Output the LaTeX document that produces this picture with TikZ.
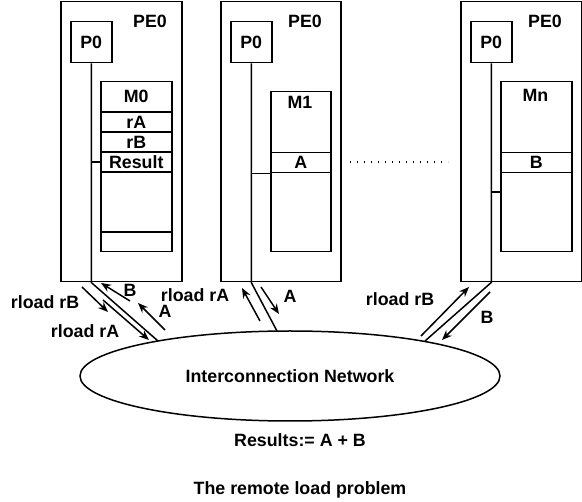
\documentclass[tikz,border=0pt]{standalone}
\usepackage{fontspec}
\setmainfont{Liberation Sans}
\usetikzlibrary{arrows.meta,positioning,shapes.geometric}

\begin{document}
\begin{tikzpicture}[x=1pt,y=-1pt,line width=1.5pt,
  every node/.style={font=\fontsize{17.8}{20}\selectfont\bfseries,inner sep=0pt},
  box/.style={draw,rectangle,anchor=north west},
  msg/.style={-{Stealth[length=10pt,width=8pt]}}]

\useasboundingbox (0,0) rectangle (582,502);

%% The first PE
\node [box,minimum width=121pt,minimum height=280pt] (pe1) at (60,1) {};
\node (pe1lbl) at (150,21) {PE0};
\node [box,minimum width=41pt,minimum height=41pt] (p1) at (70,21) {P0};

% memory M0 with its cells
\node [box,minimum width=71pt,minimum height=30pt] (m0) at (100,81) {M0};
\node [box,minimum width=71pt,minimum height=19pt] (ra) at (100,112) {rA};
\node [box,minimum width=71pt,minimum height=19pt] (rb) at (100,132) {rB};
\node [box,minimum width=71pt,minimum height=19pt] (res) at (100,152) {Result};
\node [box,minimum width=71pt,minimum height=59pt] (free1) at (100,172) {};
\node [box,minimum width=71pt,minimum height=19pt] (free2) at (100,232) {};

%% The second PE
\node [box,minimum width=120pt,minimum height=280pt] (pe2) at (220,1) {};
\node (pe2lbl) at (305,21) {PE0};
\node [box,minimum width=41pt,minimum height=41pt] (p2) at (230,21) {P0};
\node [box,minimum width=60pt,minimum height=160pt] (m1) at (270,91) {};
\node (m1lbl) at (300,102) {M1};
\node [box,minimum width=60pt,minimum height=20pt] (a1) at (270,152) {A};

%% The last PE
\node [box,minimum width=121pt,minimum height=280pt] (pe3) at (460,1) {};
\node (pe3lbl) at (545,21) {PE0};
\node [box,minimum width=41pt,minimum height=41pt] (p3) at (470,21) {P0};
\node [box,minimum width=71pt,minimum height=170pt] (mn) at (500,81) {};
\node (mnlbl) at (535.5,95) {Mn};
\node [box,minimum width=71pt,minimum height=20pt] (b1) at (500,152) {B};

% dots between the PEs
\draw [line width=1.2pt,dash pattern=on 1.2pt off 5.8pt] (350,162) -- (448,162);

%% The network
\node [draw,ellipse,minimum width=420pt,minimum height=90pt] (net) at (290,376) {Interconnection Network};
\coordinate (n1) at (158,341);
\coordinate (n2) at (277,331);
\coordinate (n3) at (425,341);

% bus of each PE down to the network
\draw (p1.south) -- (p1.south |- pe1.south) -- (n1);
\draw (p2.south) -- (p2.south |- pe2.south) -- (n2);
\draw (p3.south) -- (p3.south |- pe3.south) -- (n3);

% taps into the memories
\draw (p1.south |- res.west) -- (res.west);
\draw (p2.south |- a1.south west) -- (a1.south west);
\coordinate (t3) at (500,192);
\draw (p3.south |- t3) -- (t3);

%% The messages of the first PE
\draw [msg] (82,287) -- (108,312);
\draw [msg] (103,300) -- (149,340);
\draw [msg] (130,301) -- (101,283);
\draw [msg] (165,330) -- (138,303);
\node (lrb1) at (45,302) {rload rB};
\node (lra1) at (85,331) {rload rA};
\node (lb1) at (130,290) {B};
\node (la1) at (165,311) {A};

%% The messages of the second PE
\draw [msg] (260,321) -- (242,288);
\draw [msg] (261,287) -- (279,314);
\node (lra2) at (195,295) {rload rA};
\node (la2) at (290,296) {A};

%% The messages of the last PE
\draw [msg] (421,336) -- (469,287);
\draw [msg] (490,292) -- (442,340);
\node (lrb3) at (400,299) {rload rB};
\node (lb3) at (487,317) {B};

%% The texts below
\node [anchor=base] (sum) at (300,447) {Results:= A + B};
\node [anchor=base] (title) at (300,495) {The remote load problem};

\end{tikzpicture}
\end{document}
